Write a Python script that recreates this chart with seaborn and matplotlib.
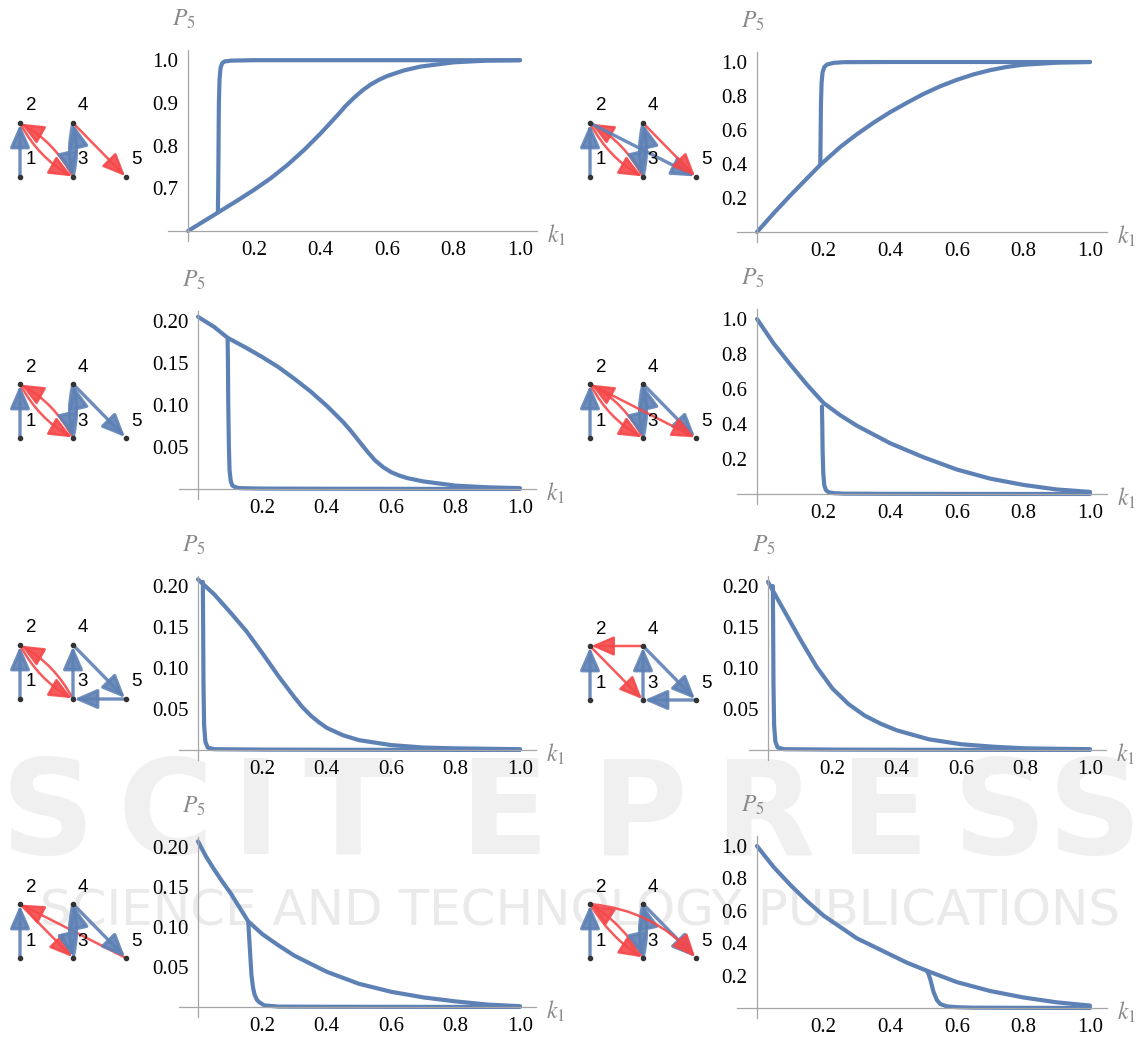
import matplotlib
matplotlib.use("Agg")
import matplotlib.pyplot as plt
import seaborn as sns
import numpy as np
from matplotlib.patches import FancyArrowPatch
from matplotlib.ticker import FixedLocator

# ---- data (k1 values, P5 values) ----
a_up_k = [0.090, 0.091, 0.092, 0.093, 0.095, 0.098, 0.103, 0.110, 0.130, 0.2, 0.4, 0.6, 0.8, 1.0]
a_up_p = [0.645, 0.700, 0.800, 0.900, 0.955, 0.982, 0.993, 0.997, 0.999, 1.0, 1.0, 1.0, 1.0, 1.0]
a_lo_k = [0, 0.05, 0.09, 0.1, 0.15, 0.2, 0.25, 0.3, 0.35, 0.4, 0.45, 0.475, 0.5, 0.525, 0.55, 0.575,
          0.6, 0.65, 0.7, 0.8, 0.9, 1.0]
a_lo_p = [0.600, 0.624, 0.643, 0.648, 0.672, 0.697, 0.724, 0.755, 0.790, 0.829, 0.871, 0.893, 0.912,
          0.929, 0.943, 0.954, 0.963, 0.976, 0.985, 0.995, 0.999, 1.0]

b_up_k = [0.190, 0.191, 0.192, 0.194, 0.197, 0.202, 0.210, 0.230, 0.260, 0.4, 0.6, 0.8, 1.0]
b_up_p = [0.40, 0.55, 0.75, 0.88, 0.94, 0.97, 0.985, 0.995, 0.999, 1.0, 1.0, 1.0, 1.0]
b_lo_k = [0, 0.05, 0.1, 0.15, 0.19, 0.25, 0.3, 0.35, 0.4, 0.45, 0.5, 0.55, 0.6, 0.65, 0.7, 0.75,
          0.8, 0.9, 1.0]
b_lo_p = [0.0, 0.11, 0.215, 0.315, 0.395, 0.50, 0.575, 0.643, 0.705, 0.760, 0.812, 0.857, 0.895,
          0.927, 0.952, 0.971, 0.984, 0.996, 1.0]

c_up_k = [0, 0.05, 0.092, 0.15, 0.2, 0.25, 0.3, 0.35, 0.4, 0.45, 0.475, 0.5, 0.525, 0.55, 0.575,
          0.6, 0.625, 0.65, 0.7, 0.8, 0.9, 1.0]
c_up_p = [0.205, 0.193, 0.180, 0.168, 0.157, 0.145, 0.131, 0.116, 0.099, 0.080, 0.069, 0.057, 0.045,
          0.034, 0.026, 0.020, 0.016, 0.013, 0.009, 0.004, 0.002, 0.001]
c_lo_k = [0.092, 0.093, 0.094, 0.096, 0.098, 0.102, 0.107, 0.117, 0.13, 0.2, 0.4, 0.6, 0.8, 1.0]
c_lo_p = [0.180, 0.150, 0.100, 0.050, 0.022, 0.009, 0.004, 0.002, 0.001, 0.0005, 0.0003, 0.0002, 0.0001, 0.0001]

d_up_k = [0, 0.05, 0.1, 0.15, 0.2, 0.25, 0.3, 0.35, 0.4, 0.5, 0.6, 0.7, 0.8, 0.9, 1.0]
d_up_p = [1.0, 0.86, 0.74, 0.625, 0.52, 0.45, 0.39, 0.34, 0.29, 0.21, 0.14, 0.088, 0.052, 0.026, 0.012]
d_lo_k = [0.195, 0.196, 0.197, 0.199, 0.202, 0.207, 0.215, 0.23, 0.26, 0.4, 0.6, 0.8, 1.0]
d_lo_p = [0.50, 0.40, 0.25, 0.12, 0.05, 0.022, 0.010, 0.005, 0.002, 0.001, 0.0005, 0.0002, 0.0001]

e_up_k = [0, 0.05, 0.1, 0.15, 0.2, 0.25, 0.3, 0.325, 0.35, 0.375, 0.4, 0.45, 0.5, 0.6, 0.7, 0.8, 1.0]
e_up_p = [0.208, 0.190, 0.168, 0.145, 0.118, 0.090, 0.064, 0.052, 0.042, 0.034, 0.027, 0.018, 0.012,
          0.006, 0.003, 0.002, 0.001]
e_lo_k = [0.015, 0.016, 0.017, 0.019, 0.023, 0.03, 0.05, 0.2, 0.4, 0.6, 0.8, 1.0]
e_lo_p = [0.205, 0.150, 0.080, 0.030, 0.010, 0.003, 0.001, 0.0005, 0.0003, 0.0002, 0.0001, 0.0001]

f_up_k = [0, 0.05, 0.1, 0.15, 0.2, 0.25, 0.3, 0.35, 0.4, 0.5, 0.6, 0.7, 0.8, 1.0]
f_up_p = [0.205, 0.170, 0.135, 0.102, 0.075, 0.056, 0.042, 0.032, 0.024, 0.013, 0.007, 0.004, 0.002, 0.001]
f_lo_k = [0.015, 0.016, 0.017, 0.019, 0.023, 0.03, 0.05, 0.2, 0.4, 0.6, 0.8, 1.0]
f_lo_p = [0.200, 0.150, 0.080, 0.030, 0.010, 0.003, 0.001, 0.0005, 0.0003, 0.0002, 0.0001, 0.0001]

g_up_k = [0, 0.025, 0.05, 0.075, 0.1, 0.125, 0.156, 0.2, 0.25, 0.3, 0.4, 0.5, 0.6, 0.7, 0.8, 0.9, 1.0]
g_up_p = [0.207, 0.188, 0.172, 0.157, 0.143, 0.127, 0.107, 0.091, 0.077, 0.064, 0.044, 0.029, 0.019,
          0.012, 0.007, 0.003, 0.001]
g_lo_k = [0.156, 0.160, 0.166, 0.171, 0.176, 0.183, 0.190, 0.206, 0.25, 0.4, 0.6, 0.8, 1.0]
g_lo_p = [0.107, 0.080, 0.040, 0.024, 0.015, 0.009, 0.006, 0.002, 0.0005, 0.0003, 0.0002, 0.0001, 0.0001]

h_up_k = [0, 0.05, 0.1, 0.15, 0.2, 0.25, 0.3, 0.35, 0.4, 0.45, 0.51, 0.6, 0.7, 0.8, 0.9, 1.0]
h_up_p = [1.0, 0.87, 0.76, 0.66, 0.57, 0.50, 0.43, 0.38, 0.33, 0.28, 0.23, 0.16, 0.105, 0.065, 0.035, 0.015]
h_lo_k = [0.51, 0.515, 0.52, 0.525, 0.53, 0.54, 0.55, 0.57, 0.6, 0.65, 0.8, 1.0]
h_lo_p = [0.23, 0.21, 0.18, 0.14, 0.10, 0.05, 0.025, 0.010, 0.005, 0.002, 0.001, 0.0]

# network edges: (from, to, colour, curvature)
net_a = [(1, 2, "b", 0), (2, 3, "r", 0.15), (3, 2, "r", 0.15), (3, 4, "b", 0.12), (4, 3, "b", 0.12), (4, 5, "r", 0)]
net_b = [(1, 2, "b", 0), (2, 3, "r", 0.15), (3, 2, "r", 0.15), (3, 4, "b", 0.12), (4, 3, "b", 0.12),
         (2, 5, "b", 0), (4, 5, "r", 0)]
net_c = [(1, 2, "b", 0), (2, 3, "r", 0.15), (3, 2, "r", 0.15), (3, 4, "b", 0.12), (4, 3, "b", 0.12), (4, 5, "b", 0)]
net_d = [(1, 2, "b", 0), (2, 3, "r", 0.15), (3, 2, "r", 0.15), (3, 4, "b", 0.12), (4, 3, "b", 0.12),
         (4, 5, "b", 0), (2, 5, "r", 0)]
net_e = [(1, 2, "b", 0), (2, 3, "r", 0.15), (3, 2, "r", 0.15), (3, 4, "b", 0), (4, 5, "b", 0), (5, 3, "b", 0)]
net_f = [(1, 2, "b", 0), (4, 2, "r", 0), (2, 3, "r", 0), (3, 4, "b", 0), (4, 5, "b", 0), (5, 3, "b", 0)]
net_g = [(1, 2, "b", 0), (2, 3, "r", 0), (5, 2, "r", 0), (3, 4, "b", 0.12), (4, 3, "b", 0.12), (4, 5, "b", 0)]
net_h = [(1, 2, "b", 0), (2, 3, "r", 0.12), (3, 2, "r", 0.12), (3, 4, "b", 0.12), (4, 3, "b", 0.12),
         (4, 5, "b", 0), (2, 5, "r", -0.2)]

BLUE = "#5E81B5"
RED = "#F5484A"
AXC = "#a6a6a6"
SERIF = "Liberation Serif"

sns.set_style("white")
plt.rcParams["font.family"] = [SERIF, "DejaVu Serif"]
plt.rcParams["mathtext.fontset"] = "stix"

W, H = 1142, 1039
fig = plt.figure(figsize=(W / 100, H / 100), dpi=100)

# background layer (watermark + networks) in pixel coordinates
bg = fig.add_axes([0, 0, 1, 1], zorder=0)
bg.set_xlim(0, W)
bg.set_ylim(H, 0)
bg.axis("off")

for ch, cx in zip("SCITEPRESS", [48, 165, 256, 348, 505, 640, 765, 885, 1000, 1095]):
    bg.text(cx, 818, ch, fontsize=94, fontweight="bold", color="#f0f0f0", ha="center", va="center",
            family="DejaVu Sans", zorder=0.2)
bg.text(580, 912, "SCIENCE AND TECHNOLOGY PUBLICATIONS", fontsize=36, color="#eaeaea", ha="center",
        va="center", family="DejaVu Sans", zorder=0.2)

node_off = {1: (0, 54), 2: (0, 0), 3: (53, 54), 4: (53, 0), 5: (106, 54)}
label_off = {2: (11, -17), 4: (10, -17), 1: (11, -17), 3: (10, -17), 5: (10, -17)}


def draw_network(ox, oy, edges):
    pos = {n: (ox + dx, oy + dy) for n, (dx, dy) in node_off.items()}
    for a, b, c, rad in edges:
        col = BLUE if c == "b" else RED
        lw = 2.4 if c == "b" else 1.8
        arr = FancyArrowPatch(pos[a], pos[b], arrowstyle="-|>,head_length=1.15,head_width=0.5",
                              mutation_scale=12, connectionstyle=f"arc3,rad={rad}",
                              shrinkA=1, shrinkB=1, color=col, lw=lw, alpha=0.9, zorder=3)
        bg.add_patch(arr)
    for n, (x, y) in pos.items():
        bg.plot(x, y, "o", ms=3, color="#333333", zorder=5)
    for n, (dx, dy) in label_off.items():
        x, y = pos[n]
        bg.text(x + dx, y + dy, str(n), fontsize=13.5, family="Liberation Sans", ha="center",
                va="center", color="black", zorder=6)


# panels: (x of k1=0, x of k1=1, y of axis, ymin, ytop, px per unit y, majors, minor step, fmt, data)
panels = [
    (188, 520, 231, 0.6, 1.023, 427, [0.7, 0.8, 0.9, 1.0], 0.02, "%.1f", a_up_k, a_up_p, a_lo_k, a_lo_p),
    (757, 1090, 232, 0.0, 1.06, 170, [0.2, 0.4, 0.6, 0.8, 1.0], 0.05, "%.1f", b_up_k, b_up_p, b_lo_k, b_lo_p),
    (198, 520, 489, 0.0, 0.212, 840, [0.05, 0.10, 0.15, 0.20], 0.01, "%.2f", c_up_k, c_up_p, c_lo_k, c_lo_p),
    (757, 1090, 494, 0.0, 1.06, 175, [0.2, 0.4, 0.6, 0.8, 1.0], 0.05, "%.1f", d_up_k, d_up_p, d_lo_k, d_lo_p),
    (198, 520, 750, 0.0, 0.212, 820, [0.05, 0.10, 0.15, 0.20], 0.01, "%.2f", e_up_k, e_up_p, e_lo_k, e_lo_p),
    (768, 1090, 750, 0.0, 0.212, 820, [0.05, 0.10, 0.15, 0.20], 0.01, "%.2f", f_up_k, f_up_p, f_lo_k, f_lo_p),
    (198, 520, 1007, 0.0, 0.212, 800, [0.05, 0.10, 0.15, 0.20], 0.01, "%.2f", g_up_k, g_up_p, g_lo_k, g_lo_p),
    (757, 1090, 1008, 0.0, 1.06, 162, [0.2, 0.4, 0.6, 0.8, 1.0], 0.05, "%.1f", h_up_k, h_up_p, h_lo_k, h_lo_p),
]
nets = [net_a, net_b, net_c, net_d, net_e, net_f, net_g, net_h]
net_rows = [123, 123, 384, 384, 645, 646, 904, 904]
x_majors = [0.2, 0.4, 0.6, 0.8, 1.0]

XL, XR = -0.06, 1.05
for i, (x0, x1, ay, ymin, ytop, ppu, majors, mstep, fmt, uk, up, lk, lp) in enumerate(panels):
    ppx = x1 - x0
    left_px = x0 + XL * ppx
    width_px = (XR - XL) * ppx
    bot_px = ay + 10
    top_px = ay - (ytop - ymin) * ppu
    ax = fig.add_axes([left_px / W, 1 - bot_px / H, width_px / W, (bot_px - top_px) / H], zorder=2)
    ax.patch.set_alpha(0)
    sns.lineplot(x=uk, y=up, sort=False, estimator=None, color=BLUE, lw=3.0, ax=ax)
    sns.lineplot(x=lk, y=lp, sort=False, estimator=None, color=BLUE, lw=3.0, ax=ax)
    ax.set_xlim(XL, XR)
    ax.set_ylim(ymin - 10 / ppu, ytop)
    for s in ("top", "right"):
        ax.spines[s].set_visible(False)
    ax.spines["left"].set_position(("data", 0))
    ax.spines["bottom"].set_position(("data", ymin))
    for s in ("left", "bottom"):
        ax.spines[s].set_color(AXC)
        ax.spines[s].set_linewidth(0.9)
    ax.xaxis.set_major_locator(FixedLocator(x_majors))
    ax.xaxis.set_minor_locator(FixedLocator(list(np.arange(0.05, 1.0001, 0.05))))
    ax.yaxis.set_major_locator(FixedLocator(majors))
    ax.yaxis.set_minor_locator(FixedLocator(list(np.arange(ymin + mstep, ytop, mstep))))
    ax.set_xticklabels(["%.1f" % v for v in x_majors], fontfamily=SERIF, fontsize=15)
    ax.set_yticklabels([fmt % v for v in majors], fontfamily=SERIF, fontsize=15)
    ax.tick_params(which="major", direction="in", length=4, width=0.8, color=AXC, labelcolor="black")
    ax.tick_params(which="minor", direction="in", length=2.2, width=0.6, color=AXC)
    ax.tick_params(axis="x", which="major", pad=7)
    ax.tick_params(axis="y", which="major", pad=7)
    ax.set_xlabel("")
    ax.set_ylabel("")
    ax.annotate(r"$P_5$", xy=(0, ytop), xycoords="data", xytext=(-3, 22), textcoords="offset points",
                ha="center", va="center", fontsize=17, color="#8a8a8a", annotation_clip=False)
    ax.annotate(r"$k_1$", xy=(XR, ymin), xycoords="data", xytext=(14, -3), textcoords="offset points",
                ha="center", va="center", fontsize=17, color="#8a8a8a", annotation_clip=False)

    ox = 20 if i % 2 == 0 else 590
    draw_network(ox, net_rows[i], nets[i])

fig.savefig("out.png", dpi=100)
